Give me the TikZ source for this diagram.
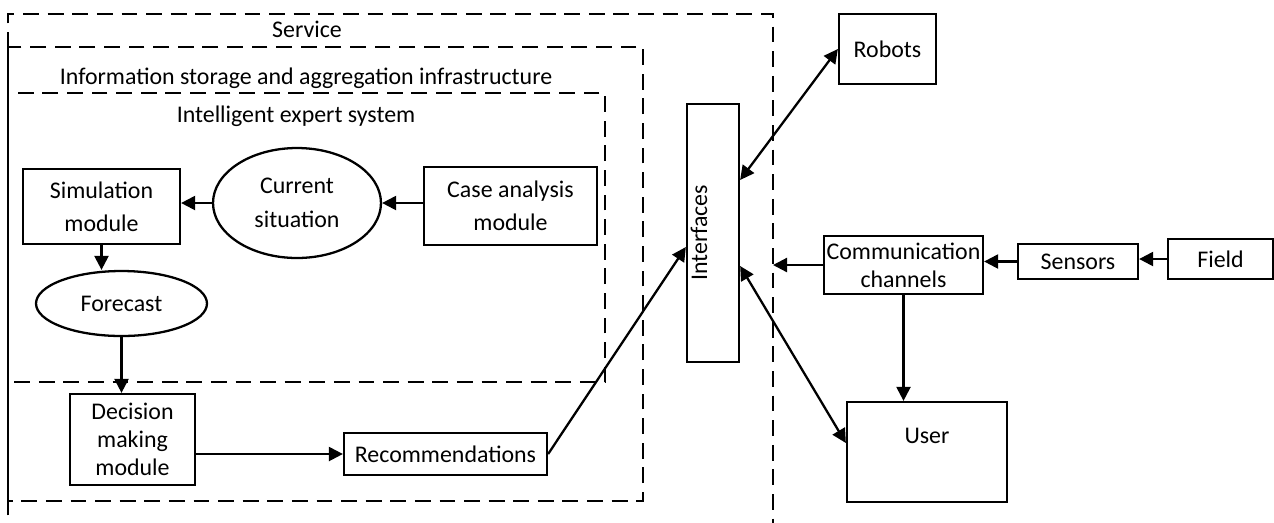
\documentclass[tikz,border=0pt]{standalone}
\usepackage{fontspec}
\setmainfont{Carlito}
\usetikzlibrary{positioning, shapes.geometric, calc, arrows.meta}
\tikzset{
    box/.style={draw, line width=1.3pt, align=center, inner sep=0pt, font=\fontsize{13.6}{16}\selectfont},
    tall/.style={font=\fontsize{13.6}{19}\selectfont},
    oval/.style={box, ellipse},
    plain/.style={inner sep=0pt, text height=1.5ex, text depth=.25ex, font=\fontsize{13.6}{16}\selectfont},
    frame/.style={draw, line width=1.3pt, dash pattern=on 9pt off 5pt},
    link/.style={line width=1.3pt, -{Triangle[length=8pt, width=8pt]}},
    twoway/.style={line width=1.3pt, {Triangle[length=8pt, width=8pt]}-{Triangle[length=8pt, width=8pt]}}
}

\begin{document}
\begin{tikzpicture}[x=0.02cm, y=-0.02cm]
    \useasboundingbox (0,0) rectangle (1274,522);

    %Frames
    \draw[frame] (8,540) |- (773,14) -- (773,540);
    \draw[frame] (8,47) rectangle (643,501);
    \draw[frame] (8,93) rectangle (605,382);
    \node[plain] (service) at (307,32) {Service};
    \node[plain] (storage) at (306,79) {Information storage and aggregation infrastructure};
    \node[plain] (expert) at (296,117) {Intelligent expert system};

    %Modules (inside the expert system)
    \node[box, tall, minimum width=3.14cm, minimum height=1.5cm] (sim) at (101.5,206.5) {Simulation\\module};
    \node[oval, tall, minimum width=3.36cm, minimum height=2.2cm] (cur) at (297,203) {Current\\situation};
    \node[box, tall, minimum width=3.46cm, minimum height=1.56cm] (case) at (510.5,206) {Case analysis\\module};
    \node[oval, minimum width=3.42cm, minimum height=1.3cm] (fore) at (121.5,303.5) {Forecast};
    \node[box, minimum width=2.5cm, minimum height=1.82cm] (dec) at (132.5,439.5) {Decision\\making\\module};
    \node[box, minimum width=4.06cm, minimum height=0.84cm] (rec) at (445.5,454) {Recommendations};

    %Outside world
    \node[box, rotate=90, minimum width=5.16cm, minimum height=1.04cm, text height=0.36cm, text depth=0.6cm] (intf) at (713,233) {Interfaces};
    \node[box, minimum width=1.94cm, minimum height=1.4cm] (robots) at (887.5,49) {Robots};
    \node[box, minimum width=3.18cm, minimum height=1.16cm] (comm) at (903.5,265) {Communication\\channels};
    \node[box, minimum width=2.4cm, minimum height=0.7cm] (sens) at (1078,261.5) {Sensors};
    \node[box, minimum width=2.1cm, minimum height=0.8cm] (field) at (1220.5,259) {Field};
    \node[box, minimum width=3.2cm, minimum height=2.0cm, text height=0.35cm, text depth=0.71cm] (user) at (927,452) {User};
    \coordinate (svcedge) at (773,265);

    %Lines (inside)
    \draw[link] (cur.west) -- (cur.west -| sim.east);
    \draw[link] (case.west |- cur.east) -- (cur.east);
    \draw[link] (sim.south) -- (sim.south |- fore.north);
    \draw[link] (fore.south) -- (fore.south |- dec.north);
    \draw[link] (dec.east |- rec.west) -- (rec.west);
    \draw[link] (rec.east) -- ($(intf.north)+(0,14)$);

    %Lines (outside)
    \draw[twoway] ($(intf.south)+(0,-53)$) -- (robots.west);
    \draw[twoway] ($(intf.south)+(0,33)$) -- ($(user.west)+(0,-9)$);
    \draw[link] (comm.west) -- (svcedge);
    \draw[link] (sens.west) -- (sens.west -| comm.east);
    \draw[link] (field.west) -- (field.west -| sens.east);
    \draw[link] (comm.south) -- (comm.south |- user.north);
\end{tikzpicture}
\end{document}
